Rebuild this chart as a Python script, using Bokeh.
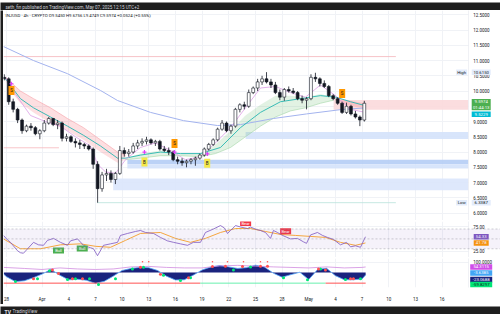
from bokeh.plotting import figure
from bokeh.layouts import column, row
from bokeh.models import (ColumnDataSource, FixedTicker, Range1d, Label,
                          Span, BoxAnnotation)
from bokeh.embed import file_html
from bokeh.resources import INLINE
from bokeh.core.properties import value

FONT = "Roboto"
DARK = "#1e1e1e"
TXT = "#131722"
GRID = "#f0f2f6"

# ---------------- time axis (days since Mar 28) ----------------
tick_days = [0, 4, 7, 10, 13, 16, 19, 22, 25, 28, 31, 34, 37, 40, 43, 46, 49]
tick_labels = ["28", "Apr", "4", "7", "10", "13", "16", "19", "22", "25", "28", "May", "4", "7", "10", "13", "16"]

# ---------------- 12h candles INJUSD ----------------
bar_day = [-0.25 + 0.5 * i for i in range(82)]
opens = [10.45, 10.40, 9.65, 9.40, 9.05, 8.70, 8.85, 8.80, 8.60, 8.70, 8.95, 9.10, 8.90, 8.95, 8.45, 8.50,
         8.35, 8.30, 8.25, 8.20, 8.10, 7.60, 6.80, 7.25, 7.30, 7.10, 7.30, 8.05, 7.95, 8.00, 8.20, 8.30,
         8.35, 8.40, 8.30, 8.35, 8.10, 8.05, 8.00, 7.75, 7.70, 7.65, 7.70, 7.75, 7.80, 7.90, 8.10, 8.25,
         8.40, 8.75, 8.95, 8.70, 8.85, 9.40, 9.55, 9.50, 9.95, 10.10, 10.30, 10.40, 10.30, 10.20, 9.95, 9.80,
         10.05, 10.00, 9.95, 9.75, 9.70, 9.75, 10.45, 10.40, 10.25, 10.15, 9.85, 9.75, 9.60, 9.30, 9.50, 9.25,
         9.15, 9.05]
highs = [10.55, 10.45, 9.75, 9.45, 9.10, 8.90, 8.95, 8.85, 8.75, 9.05, 9.15, 9.12, 9.05, 9.00, 8.60, 8.55,
         8.45, 8.40, 8.30, 8.25, 8.15, 7.70, 7.35, 7.45, 7.40, 7.35, 8.20, 8.15, 8.10, 8.30, 8.40, 8.45,
         8.50, 8.45, 8.40, 8.40, 8.20, 8.15, 8.05, 7.85, 7.80, 7.75, 7.80, 7.85, 7.95, 8.15, 8.30, 8.45,
         8.80, 9.05, 9.00, 8.90, 9.45, 9.60, 9.65, 10.05, 10.15, 10.40, 10.50, 10.62, 10.40, 10.30, 10.05, 10.10,
         10.15, 10.10, 10.00, 9.85, 9.80, 10.55, 10.60, 10.45, 10.35, 10.20, 9.90, 9.80, 9.65, 9.62, 9.55, 9.35,
         9.20, 9.68]
lows = [10.35, 9.55, 9.30, 8.95, 8.60, 8.65, 8.70, 8.55, 8.42, 8.65, 8.90, 8.85, 8.75, 8.35, 8.35, 8.30,
        8.15, 8.10, 8.10, 8.05, 7.45, 6.34, 6.70, 7.05, 7.00, 6.95, 7.25, 7.85, 7.85, 7.95, 8.10, 8.20,
        8.25, 8.25, 8.20, 8.05, 8.00, 7.90, 7.70, 7.60, 7.55, 7.50, 7.60, 7.55, 7.75, 7.85, 8.05, 8.20,
        8.35, 8.70, 8.65, 8.60, 8.80, 9.30, 9.40, 9.45, 9.90, 10.00, 10.20, 10.25, 10.10, 9.90, 9.70, 9.68,
        9.95, 9.90, 9.70, 9.60, 9.40, 9.70, 10.30, 10.15, 10.10, 9.80, 9.70, 9.55, 9.25, 9.25, 9.20, 9.10,
        8.85, 9.00]
closes = [10.40, 9.65, 9.40, 9.05, 8.70, 8.85, 8.80, 8.60, 8.70, 8.95, 9.10, 8.90, 8.95, 8.45, 8.50, 8.35,
          8.30, 8.25, 8.20, 8.10, 7.60, 6.80, 7.25, 7.30, 7.10, 7.30, 8.05, 7.95, 8.00, 8.20, 8.30, 8.35,
          8.40, 8.30, 8.35, 8.10, 8.05, 8.00, 7.75, 7.70, 7.65, 7.70, 7.75, 7.80, 7.90, 8.10, 8.25, 8.40,
          8.75, 8.95, 8.70, 8.85, 9.40, 9.55, 9.50, 9.95, 10.10, 10.30, 10.40, 10.30, 10.20, 9.95, 9.80, 10.05,
          10.00, 9.95, 9.75, 9.70, 9.75, 10.45, 10.40, 10.25, 10.15, 9.85, 9.75, 9.60, 9.30, 9.50, 9.25, 9.15,
          9.05, 9.60]

# ---------------- overlays ----------------
slow_ma_day = [-0.34, 3.04, 6.86, 10.57, 12.49, 16.2, 19.91, 23.73, 26.32, 30.03, 33.75, 37.57, 40.38]
slow_ma = [11.46, 11.0, 10.57, 10.02, 9.69, 9.3, 9.03, 8.87, 8.9, 9.1, 9.25, 9.39, 9.45]

teal_day = [-0.11, 1.57, 3.04, 4.95, 6.86, 8.66, 10.57, 12.49, 13.39, 15.07, 17.32, 19.57, 21.82, 24.07,
            26.32, 28.57, 30.82, 33.07, 35.32, 37.01, 38.7, 40.38]
teal_ma = [10.4, 9.75, 9.45, 9.15, 8.85, 8.55, 8.2, 7.8, 7.8, 7.9, 8.0, 7.95, 7.95, 8.15,
           8.8, 9.3, 9.65, 9.75, 9.85, 9.8, 9.65, 9.52]

fast_day = [-0.11, 1.01, 2.7, 4.39, 6.07, 7.76, 9.45, 10.24, 11.14, 12.26, 13.39, 15.07, 16.76, 18.45,
            20.13, 21.82, 23.51, 25.2, 26.88, 28.57, 30.26, 31.95, 33.63, 35.32, 37.01, 38.7, 40.38]
fast_ma = [10.45, 9.9, 9.2, 9.0, 8.85, 8.5, 8.2, 7.6, 7.35, 7.3, 7.75, 8.15, 8.3, 8.05,
           7.75, 7.85, 8.3, 8.8, 9.45, 10.1, 10.15, 9.95, 9.8, 10.2, 9.85, 9.4, 9.3]

bear1_day = [-0.11, 0.45, 1.57, 3.04, 4.95, 6.86, 8.66, 10.57, 12.49, 13.39]
bear1_up = [10.45, 10.3, 10.0, 9.75, 9.45, 9.1, 8.8, 8.4, 8.0, 7.9]
bear1_lo = [10.35, 10.0, 9.6, 9.3, 8.95, 8.7, 8.4, 8.0, 7.65, 7.75]

bull_day = [13.39, 15.07, 17.32, 19.57, 21.82, 23.51, 25.2, 26.88, 28.57, 30.26, 31.95, 33.63, 35.32, 36.78]
bull_up = [7.8, 7.95, 8.05, 7.95, 7.95, 8.25, 8.7, 9.2, 9.55, 9.85, 9.85, 9.8, 9.9, 9.8]
bull_lo = [7.75, 7.8, 7.88, 7.88, 7.85, 7.95, 8.15, 8.5, 8.85, 9.15, 9.35, 9.45, 9.6, 9.7]

bear2_day = [36.78, 38.13, 39.26, 40.38]
bear2_up = [9.78, 9.72, 9.65, 9.6]
bear2_lo = [9.72, 9.55, 9.48, 9.45]

# zones: start day, top, bottom
zone_start = [26.9, 13.6, 13.6, 12.0]
zone_top = [8.66, 7.75, 7.60, 7.13]
zone_bot = [8.43, 7.60, 7.46, 6.75]
zone_col = ["#d4e2fb", "#b5cdf5", "#d4e2fb", "#dae6fc"]
supply_start, supply_top, supply_bot = 36.8, 9.71, 9.39

hl_price = [11.13, 8.14, 6.34]
hl_start = [-0.34, -0.34, 10.2]
hl_end = [43.8, 5.9, 43.8]
hl_col = ["#f5b5ba", "#f5b5ba", "#b9e3dc"]

sell_day, sell_price = [0.56, 18.9, 37.76], [10.02, 8.28, 9.92]
buy_day, buy_price = [15.52, 22.58], [7.67, 7.63]
cross_day, cross_price = [0.56, 15.52, 18.9, 22.6], [10.24, 8.0, 8.0, 7.94]

last_price, ema_last, high_price, low_price = 9.5974, 9.5229, 10.6150, 6.3387
countdown = "01:44:13"

# ---------------- RSI ----------------
rsi_day = [-0.34, 0.11, 0.45, 1.24, 1.57, 1.91, 3.04, 3.6, 4.16, 4.61, 5.29, 6.07, 6.86, 7.2, 7.99, 8.66,
           9.45, 9.79, 10.24, 10.91, 11.7, 12.49, 12.82, 13.61, 14.51, 15.07, 15.64, 16.54, 17.32, 18.11,
           18.79, 19.57, 20.36, 21.03, 21.82, 22.38, 23.28, 24.07, 24.52, 24.86, 25.2, 25.77, 26.33, 27.12,
           27.45, 28.12, 28.57, 29.13, 29.7, 30.03, 30.48, 31.05, 31.95, 32.73, 33.41, 33.75, 34.2, 34.98,
           35.55, 36.11, 36.78, 37.57, 38.25, 38.7, 39.26, 39.82, 40.38]
rsi = [57, 48, 43, 26, 22, 21, 43, 38, 37, 47, 51, 43, 37, 46, 50, 37,
       32, 30, 16, 37, 40, 43, 57, 61, 65, 67, 63, 61, 53, 46,
       43, 40, 37, 43, 43, 63, 70, 77, 72, 61, 67, 77, 74, 71,
       74, 69, 67, 63, 51, 67, 63, 57, 50, 51, 44, 41, 58, 63,
       57, 53, 49, 38, 43, 34, 36, 33, 54.33]
rsi_ma_day = [-0.34, 1.57, 3.82, 6.07, 8.32, 10.01, 11.7, 13.39, 15.07, 17.32, 19.01, 20.7, 22.38, 24.07,
              25.77, 27.45, 29.13, 30.82, 32.51, 34.2, 35.88, 37.57, 39.26, 40.38]
rsi_ma = [50, 30, 30, 38, 40, 35, 33, 47, 61, 63, 51, 43, 51, 63,
          71, 71, 65, 59, 57, 55, 53, 43, 37, 41.78]
bull_sig_day, bull_sig_val = [5.85, 8.52], [26.5, 30.5]
bear_sig_day, bear_sig_val = [26.9, 31.4], [82.0, 65.5]

# ---------------- wave oscillator ----------------
wave_day = [-0.3, 0, 1, 2, 3, 4, 5, 6, 7, 8, 9, 10, 11, 12, 13, 14, 15, 16, 17, 18, 19, 20, 21, 22,
            23, 24, 25, 26, 27, 28, 29, 30, 31, 32, 33, 34, 35, 36, 37, 38, 39, 40, 40.4]
wave = [-17, -40, -88, -80, -51, -15, 30, -25, -71, -65, -75, -105, -85, -35, 20, 40, 50, 47, 20, -35,
        -72, -70, -25, 25, 55, 68, 55, 40, 48, 72, 55, -5, -45, -20, 3, -68, 30, 42, -30, -70, -70, -62, -23]
mf_day = [-0.3, 2, 4, 6, 8, 10, 12, 14, 16, 18, 20, 22, 24, 26, 28, 30, 32, 34, 36, 38, 40, 40.4]
mf = [50, 40, 30, 45, 35, 30, 35, 55, 60, 50, 45, 45, 65, 70, 62, 55, 50, 45, 55, 45, 50, 54.31]
green_dot_day = [1.01, 3.49, 4.84, 6.86, 7.76, 9.34, 10.35, 12.26, 14.17, 15.41, 17.66, 19.57, 20.7,
                 25.53, 27.45, 31.16, 33.86, 35.32, 38.13, 39.82]
green_dot_val = [-88, -60, 17, -68, -60, -60, -117, -60, 34, 51, -26, -77, -51,
                 26, 54, -51, -71, 34, -68, -60]
red_dot_day = [3.04, 5.17, 5.85, 7.42, 8.55, 15.07, 17.32, 20.47, 23.17, 24.63, 26.55, 28.57, 29.36,
               35.1, 35.88, 38.7, 39.03]
red_dot_val = [-60, 26, -9, -60, -60, 51, -17, -51, 60, 62, 60, 62, 62, 34, 26, -60, -60]
top_dot_day = [15.3, 16.0, 23.17, 24.86, 26.66, 28.57, 29.36]
sig_start = [-0.34, 21.8, 35.9]
sig_end = [21.8, 35.9, 40.4]
sig_col = ["#ff5252", "#69f0ae", "#ff5252"]
sig_level = -103
osc_last = [54.3115, -3.6385, -23.0688, -59.8297]

# ---------------- layout constants ----------------
PX_PER_DAY = 8.89
XR = Range1d(-0.337, 55.57)          # frame spans the price-scale column too
SCALE_X = 51.97                       # where the price scale column begins
AX_X = 52.5                           # tick label x
BOX_X = 53.4                          # value box centre x


def pane(h, yr, ticks, bottom=0):
    p = figure(width=497, height=h, x_range=XR, y_range=yr, output_backend="svg",
               toolbar_location=None, x_axis_location=("below" if bottom else None),
               y_axis_location=None, min_border_left=0, min_border_right=0,
               min_border_top=0, min_border_bottom=bottom, background_fill_color="white",
               border_fill_color="white", outline_line_color=None)
    p.xgrid.ticker = FixedTicker(ticks=tick_days)
    p.xgrid.grid_line_color = GRID
    p.ygrid.ticker = FixedTicker(ticks=ticks)
    p.ygrid.grid_line_color = GRID
    return p


def scale_column(p, ticks, fmt):
    p.quad(left=SCALE_X, right=60, bottom=-1e4, top=1e4, fill_color="white", line_color="#e6e8ee",
           line_width=0.6)
    p.text(x=[AX_X] * len(ticks), y=ticks, text=[fmt % t for t in ticks], text_font=value(FONT),
           text_font_size="4.5px", text_color=TXT, text_baseline="middle", text_align="left")


def box(p, lines, y, bg, fg="white", x=BOX_X, w=19, h=5.6, size="4.3px"):
    p.rect(x=[x], y=[y], width=w, height=h * len(lines), width_units="screen", height_units="screen",
           fill_color=bg, line_color=None)
    n = len(lines)
    for i, t in enumerate(lines):
        p.text(x=[x], y=[y], text=[t], y_offset=(i - (n - 1) / 2) * h, text_font=value(FONT),
               text_font_size=size, text_color=fg, text_align="center", text_baseline="middle")


def tag(p, xs, ys, txt, bg, fg, w, h, size):
    src = ColumnDataSource(dict(x=xs, y=ys, t=[txt] * len(xs)))
    p.rect(x="x", y="y", width=w, height=h, width_units="screen", height_units="screen",
           source=src, fill_color=bg, line_color=None)
    p.text(x="x", y="y", text="t", source=src, text_font=value(FONT), text_font_size=size,
           text_color=fg, text_align="center", text_baseline="middle")


# ================= main price pane =================
PRICE_PX = 30.5
price_ticks = [6.0 + 0.5 * k for k in range(14)]
main = pane(210, Range1d(5.756, 12.641), price_ticks)

for s, t, b, c in zip(zone_start, zone_top, zone_bot, zone_col):
    main.quad(left=s, right=SCALE_X, top=t, bottom=b, fill_color=c, line_color=None, fill_alpha=0.9)
main.quad(left=supply_start, right=SCALE_X, top=supply_top, bottom=supply_bot, fill_color="#fbd9dc",
          line_color=None, fill_alpha=0.9)
main.segment(x0=hl_start, y0=hl_price, x1=hl_end, y1=hl_price, line_color=hl_col, line_width=0.8)

main.varea(x=bear1_day, y1=bear1_lo, y2=bear1_up, fill_color="#f23645", fill_alpha=0.16)
main.varea(x=bull_day, y1=bull_lo, y2=bull_up, fill_color="#4caf50", fill_alpha=0.16)
main.varea(x=bear2_day, y1=bear2_lo, y2=bear2_up, fill_color="#f23645", fill_alpha=0.16)
main.line(bear1_day, bear1_up, line_color="#f7a1a8", line_width=0.6)
main.line(bull_day, bull_lo, line_color="#a5d6a7", line_width=0.6)
main.line(slow_ma_day, slow_ma, line_color="#a3b3ee", line_width=1)
main.line(teal_day, teal_ma, line_color="#26b5b0", line_width=0.9)
main.line(fast_day, fast_ma, line_color="#dc9ee6", line_width=0.8)

src = ColumnDataSource(dict(x=bar_day, o=opens, h=highs, l=lows, c=closes,
                            top=[max(a, b) for a, b in zip(opens, closes)],
                            bot=[min(a, b) for a, b in zip(opens, closes)],
                            fill=["white" if c >= o else TXT for o, c in zip(opens, closes)]))
main.segment(x0="x", y0="l", x1="x", y1="h", source=src, line_color=TXT, line_width=0.8)
main.vbar(x="x", width=0.32, top="top", bottom="bot", source=src, fill_color="fill",
          line_color=TXT, line_width=0.6)

main.scatter(cross_day, cross_price, marker="cross", size=4, line_color="#e040fb", line_width=1.2)
tag(main, sell_day, sell_price, "S", "#ff9800", TXT, 6, 9, "4.5px")
tag(main, buy_day, buy_price, "B", "#f4e84a", TXT, 6, 9, "4.5px")

main.add_layout(Label(x=-0.1, y=12.477,
                      text="INJUSD · 4h · CRYPTO   O9.5450  H9.6756  L9.4749  C9.5974  +0.0524 (+0.55%)",
                      text_font=FONT, text_font_size="4.3px", text_color=TXT, text_baseline="middle"))

scale_column(main, price_ticks, "%.4f")
tag(main, [51.2], [high_price], "High", "#e3ecfb", TXT, 11, 5.6, "4.3px")
box(main, ["%.4f" % high_price], high_price, "#e3ecfb", fg=TXT)
tag(main, [51.2], [low_price], "Low", "#e3ecfb", TXT, 11, 5.6, "4.3px")
box(main, ["%.4f" % low_price], low_price, "#e3ecfb", fg=TXT)
box(main, ["%.4f" % last_price, countdown], last_price - 1.3 / PRICE_PX, "#4caf50")
box(main, ["%.4f" % ema_last], ema_last - 8.6 / PRICE_PX, "#00bcd4")

# ================= RSI pane =================
RSI_PX = 0.494
rsi_p = pane(36, Range1d(12.35, 85.2), [25, 75])
rsi_p.add_layout(BoxAnnotation(bottom=30, top=70, fill_color="#7e57c2", fill_alpha=0.08, line_color=None))
for lv in [70, 50, 30]:
    rsi_p.add_layout(Span(location=lv, dimension="width", line_color="#9598a1", line_dash="2 2",
                          line_width=0.6, line_alpha=0.8))
rsi_p.line(rsi_ma_day, rsi_ma, line_color="#ff9800", line_width=0.8)
rsi_p.line(rsi_day, rsi, line_color="#7e57c2", line_width=0.8)
tag(rsi_p, bull_sig_day, bull_sig_val, "Bull", "#4caf50", "white", 11, 6, "4px")
tag(rsi_p, bear_sig_day, bear_sig_val, "Bear", "#f23645", "white", 11, 6, "4px")
scale_column(rsi_p, [25, 75], "%.2f")
box(rsi_p, ["%.2f" % rsi[-1]], rsi[-1], "#7e57c2", w=15)
box(rsi_p, ["%.2f" % rsi_ma[-1]], rsi_ma[-1], "#ff9800", w=15)

# ================= wave oscillator pane =================
OSC_PX = 0.117
osc = pane(46, Range1d(-145.4, 136.8), [100], bottom=13)
osc.varea(x=wave_day, y1=[0] * len(wave_day), y2=wave, fill_color="#1a237e")
osc.line(wave_day, wave, line_color="#4fa3f7", line_width=0.8)
osc.line(mf_day, mf, line_color="#d18be0", line_width=0.8)
osc.segment(x0=sig_start, y0=[sig_level] * 3, x1=sig_end, y1=[sig_level] * 3, line_color=sig_col, line_width=1)
osc.scatter(green_dot_day, green_dot_val, size=3, fill_color="#00e676", line_color=None)
osc.scatter(red_dot_day, red_dot_val, size=3, fill_color="#ff5252", line_color=None)
osc.scatter(top_dot_day, [105] * len(top_dot_day), size=1.6, fill_color="#ff5252", line_color=None)
xa = osc.xaxis[0]
xa.ticker = FixedTicker(ticks=tick_days)
xa.major_label_overrides = {d: l for d, l in zip(tick_days, tick_labels)}
xa.axis_line_color = None
xa.major_tick_line_color = None
xa.minor_tick_line_color = None
xa.major_label_text_font_size = "4.5px"
xa.major_label_text_font = FONT
xa.major_label_text_color = TXT
xa.major_label_standoff = 3
scale_column(osc, [100], "%.4f")
osc_cols = ["#d04ee8", "#42a5f5", "#1a237e", "#00e676"]
osc_fg = ["white", "white", "white", TXT]
osc_shift = [0, 0, 5.3, 6.7]
for v, c, f, s in zip(osc_last, osc_cols, osc_fg, osc_shift):
    box(osc, ["%.4f" % v], v - s / OSC_PX, c, fg=f, w=22)


# ================= frame pieces =================
def strip(w, h, color):
    f = figure(width=w, height=h, x_range=Range1d(0, w), y_range=Range1d(0, h), output_backend="svg",
               toolbar_location=None, x_axis_location=None, y_axis_location=None, min_border=0,
               background_fill_color=color, border_fill_color=color, outline_line_color=None)
    f.xgrid.visible = False
    f.ygrid.visible = False
    return f


header = strip(500, 10, DARK)
header.text(x=[5], y=[5], text=["seth_fin published on TradingView.com, May 07, 2025 12:15 UTC+2"],
            text_font=value(FONT), text_font_size="4.5px", text_color="#d1d4dc", text_baseline="middle")
footer = strip(500, 10, DARK)
footer.text(x=[4], y=[5], text=["TV"], text_font=value(FONT), text_font_size="5px",
            text_font_style="bold", text_color="#e0e3eb", text_baseline="middle")
footer.text(x=[12], y=[5], text=["TradingView"], text_font=value(FONT), text_font_size="4.5px",
            text_color="#d1d4dc", text_baseline="middle")
sep1 = strip(497, 1, "#b2b5be")
sep2 = strip(497, 1, "#b2b5be")
left = strip(3, 294, DARK)

layout = column(header, row(left, column(main, sep1, rsi_p, sep2, osc)), footer)
open("out.html", "w").write(file_html(layout, INLINE))
